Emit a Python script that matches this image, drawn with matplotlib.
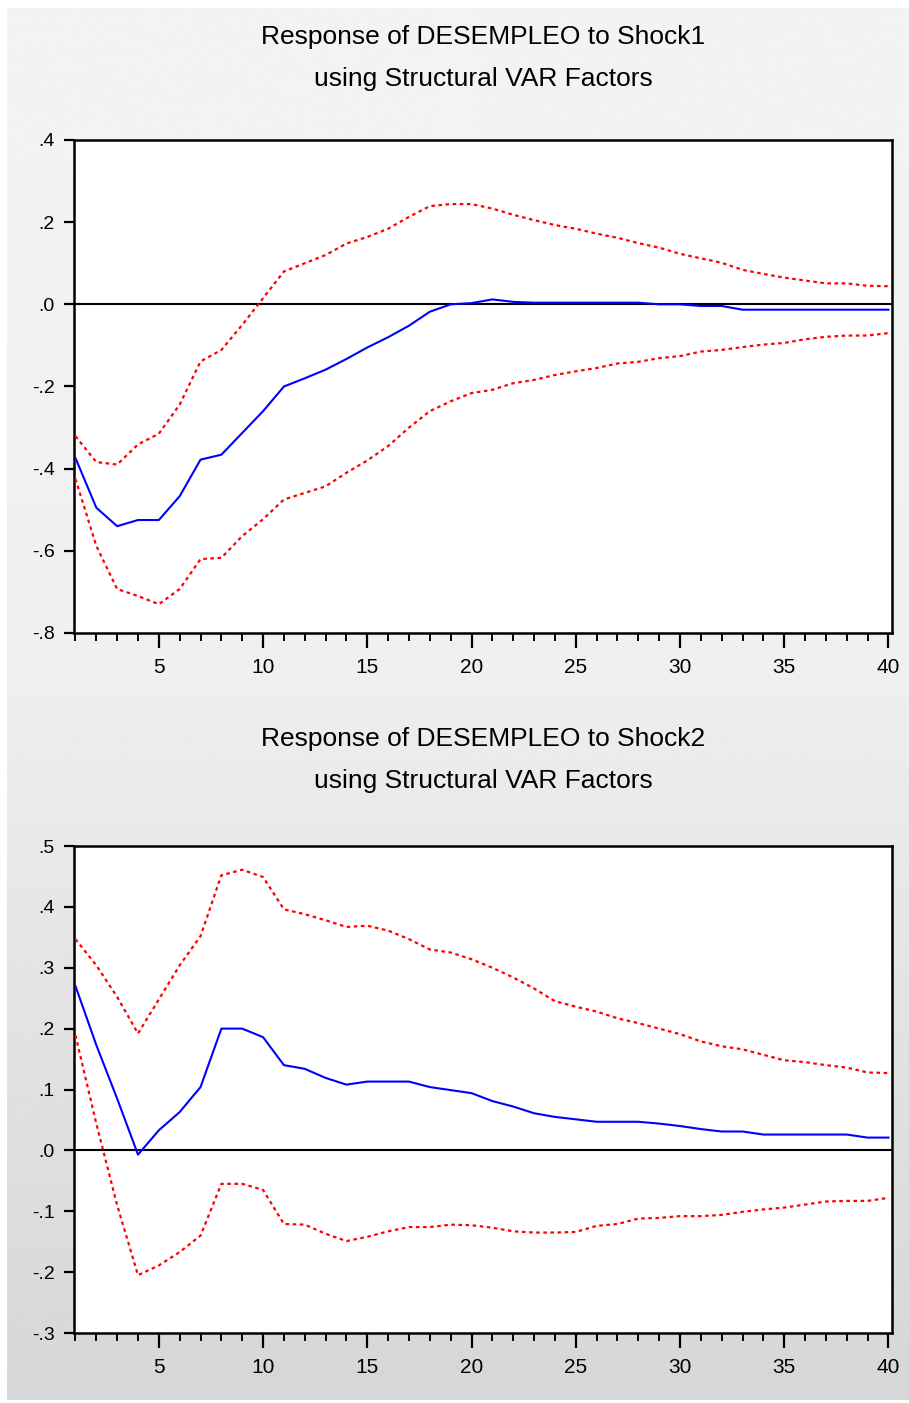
import numpy as np
import matplotlib

matplotlib.use("Agg")
import matplotlib.pyplot as plt  # noqa: E402
from matplotlib.ticker import FixedLocator, FuncFormatter  # noqa: E402

plt.rcParams["font.family"] = ["Liberation Sans", "DejaVu Sans"]

# impulse horizon 1..40
periods = list(range(1, 41))

# Response of DESEMPLEO to Shock1
shock1_resp = [
    -0.374, -0.495, -0.540, -0.525, -0.525, -0.467, -0.378, -0.366, -0.313, -0.260,
    -0.200, -0.180, -0.159, -0.133, -0.105, -0.080, -0.052, -0.018, 0.000, 0.003,
    0.012, 0.006, 0.004, 0.004, 0.004, 0.004, 0.004, 0.004, 0.000, 0.000,
    -0.004, -0.004, -0.013, -0.013, -0.013, -0.013, -0.013, -0.013, -0.013, -0.013,
]
shock1_upper = [
    -0.321, -0.384, -0.390, -0.341, -0.315, -0.244, -0.139, -0.111, -0.050, 0.015,
    0.080, 0.100, 0.120, 0.148, 0.164, 0.184, 0.213, 0.239, 0.244, 0.244,
    0.233, 0.218, 0.205, 0.193, 0.184, 0.172, 0.162, 0.149, 0.138, 0.123,
    0.112, 0.101, 0.084, 0.074, 0.065, 0.058, 0.051, 0.051, 0.045, 0.044,
]
shock1_lower = [
    -0.425, -0.588, -0.693, -0.710, -0.730, -0.693, -0.620, -0.617, -0.564, -0.523,
    -0.475, -0.459, -0.443, -0.410, -0.380, -0.345, -0.300, -0.260, -0.236, -0.216,
    -0.208, -0.192, -0.184, -0.172, -0.163, -0.155, -0.144, -0.140, -0.131, -0.126,
    -0.115, -0.111, -0.104, -0.098, -0.094, -0.085, -0.079, -0.076, -0.076, -0.070,
]

# Response of DESEMPLEO to Shock2
shock2_resp = [
    0.270, 0.173, 0.085, -0.007, 0.033, 0.063, 0.104, 0.200, 0.200, 0.186,
    0.140, 0.134, 0.119, 0.108, 0.113, 0.113, 0.113, 0.104, 0.099, 0.094,
    0.081, 0.072, 0.061, 0.055, 0.051, 0.047, 0.047, 0.047, 0.044, 0.040,
    0.035, 0.031, 0.031, 0.026, 0.026, 0.026, 0.026, 0.026, 0.021, 0.021,
]
shock2_upper = [
    0.347, 0.304, 0.252, 0.192, 0.248, 0.304, 0.352, 0.452, 0.461, 0.449,
    0.396, 0.388, 0.378, 0.367, 0.369, 0.361, 0.347, 0.330, 0.325, 0.314,
    0.300, 0.284, 0.266, 0.245, 0.236, 0.228, 0.217, 0.209, 0.200, 0.191,
    0.179, 0.171, 0.166, 0.157, 0.148, 0.145, 0.140, 0.136, 0.128, 0.127,
]
shock2_lower = [
    0.189, 0.044, -0.090, -0.205, -0.189, -0.167, -0.140, -0.055, -0.055, -0.065,
    -0.121, -0.122, -0.137, -0.149, -0.142, -0.133, -0.126, -0.126, -0.122, -0.123,
    -0.127, -0.133, -0.135, -0.135, -0.134, -0.124, -0.121, -0.112, -0.111, -0.108,
    -0.108, -0.106, -0.101, -0.097, -0.094, -0.089, -0.084, -0.083, -0.083, -0.078,
]

panels = [
    ("Shock1", shock1_resp, shock1_upper, shock1_lower, (-0.8, 0.4), [-0.8, -0.6, -0.4, -0.2, 0.0, 0.2, 0.4]),
    ("Shock2", shock2_resp, shock2_upper, shock2_lower, (-0.3, 0.5), [-0.3, -0.2, -0.1, 0.0, 0.1, 0.2, 0.3, 0.4, 0.5]),
]

W, H = 909, 1403
fig = plt.figure(figsize=(W / 100, H / 100), dpi=100)
fig.patch.set_facecolor("white")

# window-style grey backdrop, each panel with its own soft vertical gradient
bg = fig.add_axes([0, 0, 1, 1], zorder=-10)
bg.set_xlim(0, W)
bg.set_ylim(H, 0)
bg.axis("off")
grad_top = np.linspace(0.953, 0.937, 256).reshape(-1, 1)
grad_bot = np.linspace(0.930, 0.840, 256).reshape(-1, 1)
bg.imshow(grad_top, cmap="gray", vmin=0, vmax=1, extent=(7, W, 700, 8), aspect="auto")
bg.imshow(grad_bot, cmap="gray", vmin=0, vmax=1, extent=(7, W, 1400, 700), aspect="auto")

ax_rects = [
    [74 / W, 1 - 633 / H, 818 / W, 493 / H],
    [74 / W, 1 - 1333 / H, 818 / W, 487 / H],
]
title_y = [(37, 79), (739, 781)]


def fmt_y(v, _pos):
    s = f"{v:.1f}"
    return s.replace("0.", ".", 1)


for (name, resp, upper, lower, ylim, yticks), rect, (ty1, ty2) in zip(panels, ax_rects, title_y):
    ax = fig.add_axes(rect)
    ax.set_facecolor("white")
    ax.axhline(0, color="black", lw=1.5, zorder=2)
    ax.plot(periods, upper, color="#ff0000", lw=1.6, ls=(0, (1.6, 1.6)), zorder=3)
    ax.plot(periods, lower, color="#ff0000", lw=1.6, ls=(0, (1.6, 1.6)), zorder=3)
    ax.plot(periods, resp, color="#0000ff", lw=1.5, zorder=4)

    ax.set_xlim(0.93, 40.17)
    ax.set_ylim(*ylim)
    ax.xaxis.set_major_locator(FixedLocator([5, 10, 15, 20, 25, 30, 35, 40]))
    ax.xaxis.set_minor_locator(FixedLocator(periods))
    ax.yaxis.set_major_locator(FixedLocator(yticks))
    ax.yaxis.set_major_formatter(FuncFormatter(fmt_y))
    ax.tick_params(axis="x", which="major", direction="out", length=11, width=1.6,
                   labelsize=15, pad=7, top=False)
    ax.tick_params(axis="x", which="minor", direction="out", length=6, width=1.4, top=False)
    ax.tick_params(axis="y", direction="out", length=7, width=1.6, labelsize=14, pad=7,
                   right=False)
    for sp in ax.spines.values():
        sp.set_linewidth(1.8)
        sp.set_color("black")

    fig.text(483 / W, 1 - ty1 / H, f"Response of DESEMPLEO to {name}",
             ha="center", va="center", fontsize=19)
    fig.text(483 / W, 1 - ty2 / H, "using Structural VAR Factors",
             ha="center", va="center", fontsize=19)

fig.savefig("out.png", dpi=100)
